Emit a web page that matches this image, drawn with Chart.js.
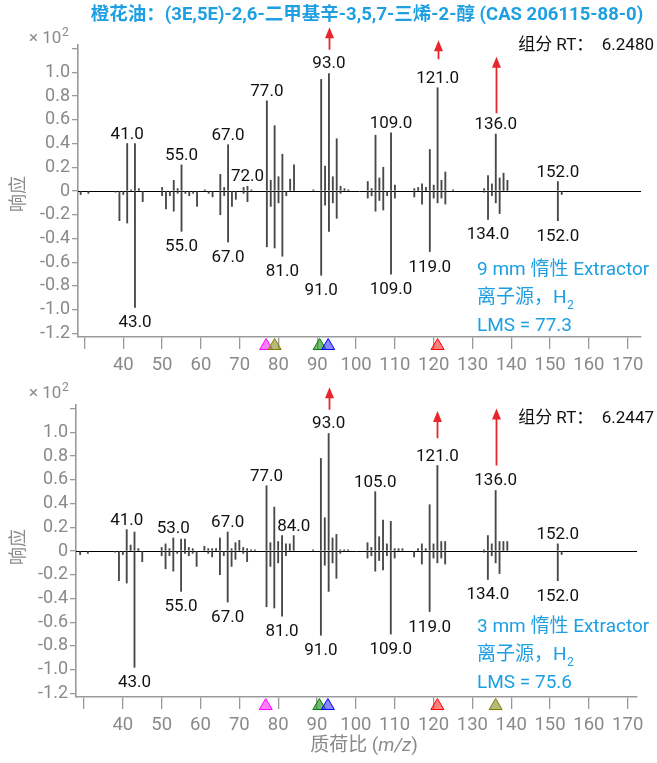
<!DOCTYPE html>
<html><head><meta charset="utf-8">
<script src="https://cdn.jsdelivr.net/npm/chart.js@4.4.1/dist/chart.umd.min.js"></script>
<style>
html,body{margin:0;padding:0;background:#fff;}
body{width:657px;height:763px;overflow:hidden;position:relative;}
canvas{position:absolute;left:0;}
#c1{top:0;}
#c2{top:360px;}
</style></head><body>
<canvas id="c1" width="657" height="385"></canvas>
<canvas id="c2" width="657" height="403"></canvas>
<script>
// ---- data ----
const titleText = '橙花油：(3E,5E)-2,6-二甲基辛-3,5,7-三烯-2-醇 (CAS 206115-88-0)';
const xTicks = [30,40,50,60,70,80,90,100,110,120,130,140,150,160,170];
const yTicks = [-1.2,-1.0,-0.8,-0.6,-0.4,-0.2,0,0.2,0.4,0.6,0.8,1.0,1.2];

// library (reference) spectrum, drawn downward
const libraryMz  = [29,31,38,39,40,41,43,45,50,51,52,53,54,55,56,57,58,59,62,63,65,66,67,68,69,71,72,77,78,79,80,81,82,91,92,93,94,95,96,103,104,105,106,107,108,109,110,115,117,119,120,121,122,123,133,134,135,136,137,152,153];
const libraryInt = [-0.03,-0.02,-0.01,-0.25,-0.03,-0.27,-0.98,-0.09,-0.04,-0.15,-0.04,-0.17,-0.02,-0.34,-0.02,-0.04,-0.02,-0.13,-0.02,-0.05,-0.20,-0.04,-0.43,-0.13,-0.07,-0.02,-0.09,-0.47,-0.13,-0.48,-0.10,-0.55,-0.04,-0.71,-0.12,-0.34,-0.10,-0.23,-0.02,-0.06,-0.04,-0.17,-0.08,-0.16,-0.04,-0.70,-0.06,-0.05,-0.11,-0.51,-0.06,-0.10,-0.06,-0.11,-0.01,-0.24,-0.04,-0.10,-0.19,-0.25,-0.03];
const libraryLabels = [43,55,67,81,91,109,119,134,152];

// 9 mm extractor sample spectrum
const sample9Mz  = [41,42,43,44,50,53,54,55,61,65,66,67,71,72,73,77,78,79,80,81,83,84,89,91,92,93,94,95,96,97,98,103,104,105,106,107,109,110,115,116,117,118,119,120,121,122,123,125,133,134,135,136,137,138,139,152];
const sample9Int = [0.40,0.01,0.40,0.02,0.03,0.09,0.02,0.22,0.01,0.14,0.03,0.39,0.03,0.04,0.01,0.76,0.09,0.55,0.12,0.31,0.10,0.22,0.01,0.94,0.21,0.99,0.12,0.44,0.04,0.02,0.01,0.08,0.02,0.47,0.11,0.20,0.49,0.05,0.02,0.03,0.06,0.03,0.35,0.05,0.87,0.09,0.16,0.01,0.02,0.13,0.06,0.48,0.11,0.15,0.09,0.08];
const sample9Labels = [41,55,67,72,77,93,109,121,136,152];

// 3 mm extractor sample spectrum
const sample3Mz  = [41,42,43,44,50,51,52,53,55,56,57,58,61,62,63,64,65,67,68,69,70,71,72,73,74,77,78,79,80,81,82,83,84,89,91,92,93,94,95,96,97,98,103,104,105,106,107,108,109,110,111,112,116,117,118,119,120,121,122,123,133,134,135,136,137,138,139,152];
const sample3Int = [0.18,0.05,0.16,0.02,0.03,0.06,0.02,0.11,0.10,0.10,0.03,0.02,0.04,0.02,0.02,0.02,0.11,0.16,0.02,0.07,0.09,0.03,0.02,0.01,0.01,0.55,0.07,0.37,0.08,0.13,0.06,0.06,0.13,0.01,0.78,0.28,0.99,0.11,0.14,0.01,0.01,0.01,0.07,0.03,0.50,0.12,0.26,0.06,0.25,0.02,0.02,0.02,0.02,0.06,0.02,0.39,0.06,0.72,0.08,0.08,0.01,0.13,0.06,0.51,0.08,0.08,0.08,0.06];
const sample3Labels = [41,53,67,77,84,93,105,121,136,152];

// red arrows (m/z, from, to in ×10² units)
const arrowMz = [93,121,136];
const arrow9From = [1.19,1.11,0.655];
const arrow9To   = [1.38,1.27,1.13];
const arrow3From = [1.19,0.95,0.72];
const arrow3To   = [1.38,1.18,1.20];

// ion markers below axis
const marker9Mz = [76.8,79,90.6,92.8,121];
const marker9Names = ['magenta','olive','green','blue','red'];
const marker3Mz = [76.8,90.6,92.8,121,136];
const marker3Names = ['magenta','green','blue','red','olive'];

const rt9 = '6.2480', rt3 = '6.2447';
const lms9 = '77.3', lms3 = '75.6';
const extractor9 = '9 mm 惰性 Extractor', extractor3 = '3 mm 惰性 Extractor';

// ---- styles ----
const BLUE = '#1d9fe2';
const GRAY = '#8a8a8a';
const AXIS = '#9a9a9a';
const RED = '#e8262b';
const BAR = '#484848';
const FONT = 'Roboto, "Noto Sans CJK SC", sans-serif';
const markerStyle = {
  magenta:['rgba(255,40,255,0.6)','#ff00ff'],
  olive:['rgba(140,140,30,0.6)','#808000'],
  green:['rgba(20,140,20,0.6)','#008000'],
  blue:['rgba(40,40,255,0.55)','#0000ff'],
  red:['rgba(255,40,40,0.6)','#ff0000']
};

function pts(mz, v){ return mz.map((m,i)=>({x:m,y:v[i]})); }

function decor(p){
  return {
    id:'decor',
    beforeDatasetsDraw(chart){
      const ctx=chart.ctx, a=chart.chartArea, ys=chart.scales.y;
      const y0=Math.round(ys.getPixelForValue(0))+0.5;
      ctx.save(); ctx.strokeStyle='#000'; ctx.lineWidth=1;
      ctx.beginPath(); ctx.moveTo(a.left,y0); ctx.lineTo(a.right,y0); ctx.stroke(); ctx.restore();
    },
    afterDraw(chart){
      const ctx=chart.ctx, a=chart.chartArea, xs=chart.scales.x, ys=chart.scales.y;
      ctx.save();
      // peak labels
      ctx.font='17px '+FONT; ctx.fillStyle='#111'; ctx.textAlign='center'; ctx.textBaseline='alphabetic';
      p.posLabels.forEach(m=>{
        const v=p.sampleInt[p.sampleMz.indexOf(m)];
        ctx.fillText(m.toFixed(1), xs.getPixelForValue(m), ys.getPixelForValue(v)-5);
      });
      libraryLabels.forEach(m=>{
        const v=libraryInt[libraryMz.indexOf(m)];
        ctx.fillText(m.toFixed(1), xs.getPixelForValue(m), ys.getPixelForValue(v)+20);
      });
      // arrows
      ctx.strokeStyle=RED; ctx.fillStyle=RED; ctx.lineWidth=1.8;
      arrowMz.forEach((m,i)=>{
        const x=Math.round(xs.getPixelForValue(m))+0.5;
        const y1=ys.getPixelForValue(p.arrowFrom[i]), y2=ys.getPixelForValue(p.arrowTo[i]);
        ctx.beginPath(); ctx.moveTo(x,y1); ctx.lineTo(x,y2+8); ctx.stroke();
        ctx.beginPath(); ctx.moveTo(x,y2); ctx.lineTo(x-4.5,y2+11); ctx.lineTo(x+4.5,y2+11); ctx.closePath(); ctx.fill();
      });
      // ion markers
      p.markerMz.forEach((m,i)=>{
        const st=markerStyle[p.markerNames[i]];
        const x=xs.getPixelForValue(m), yt=a.bottom+1.5;
        ctx.beginPath(); ctx.moveTo(x,yt); ctx.lineTo(x+6.5,yt+11); ctx.lineTo(x-6.5,yt+11); ctx.closePath();
        ctx.fillStyle=st[0]; ctx.fill(); ctx.strokeStyle=st[1]; ctx.lineWidth=1; ctx.stroke();
      });
      // × 10^2
      ctx.fillStyle=GRAY; ctx.textAlign='left'; ctx.textBaseline='alphabetic';
      ctx.font='17px '+FONT; ctx.fillText('× 10', 29, p.expY);
      const w=ctx.measureText('× 10').width;
      ctx.font='12px '+FONT; ctx.fillText('2', 29+w+0.5, p.expY-7);
      // y title
      ctx.save(); ctx.translate(19, p.yTitleY); ctx.rotate(-Math.PI/2);
      ctx.font='18px '+FONT; ctx.textAlign='center'; ctx.textBaseline='middle'; ctx.fillStyle=GRAY;
      ctx.fillText('响应',0,0); ctx.restore();
      // RT
      ctx.font='17px '+FONT; ctx.fillStyle='#111'; ctx.textAlign='right'; ctx.textBaseline='middle';
      ctx.fillText('组分 RT：  '+p.rt, 654, p.rtY);
      // blue notes
      ctx.fillStyle=BLUE; ctx.textAlign='left'; ctx.textBaseline='middle'; ctx.font='19px '+FONT;
      ctx.fillText(p.extractor, 477, p.noteY);
      ctx.fillText('离子源，H', 477, p.noteY+28);
      const hw=ctx.measureText('离子源，H').width;
      ctx.font='12px '+FONT; ctx.fillText('2', 477+hw+0.5, p.noteY+28+8);
      ctx.font='19px '+FONT; ctx.fillText('LMS = '+p.lms, 477, p.noteY+56);
      // title
      if(p.title){
        ctx.font='bold 18.5px '+FONT; ctx.fillStyle=BLUE; ctx.textAlign='center'; ctx.textBaseline='middle';
        ctx.fillText(titleText, 367, 15);
      }
      // x title
      if(p.xTitleY){
        ctx.fillStyle=GRAY; ctx.textBaseline='middle'; ctx.textAlign='left';
        const s1='质荷比 (', s2='m/z', s3=')';
        ctx.font='19px '+FONT; const w1=ctx.measureText(s1).width, w3=ctx.measureText(s3).width;
        ctx.font='italic 19px '+FONT; const w2=ctx.measureText(s2).width;
        let x=364-(w1+w2+w3)/2;
        ctx.font='19px '+FONT; ctx.fillText(s1,x,p.xTitleY); x+=w1;
        ctx.font='italic 19px '+FONT; ctx.fillText(s2,x,p.xTitleY); x+=w2;
        ctx.font='19px '+FONT; ctx.fillText(s3,x,p.xTitleY);
      }
      ctx.restore();
    }
  };
}

function makeChart(id, p){
  return new Chart(document.getElementById(id), {
    type:'bar',
    data:{datasets:[
      {data:pts(p.sampleMz,p.sampleInt), backgroundColor:BAR, barThickness:1.2, grouped:false},
      {data:pts(libraryMz,libraryInt), backgroundColor:BAR, barThickness:1.2, grouped:false}
    ]},
    options:{
      responsive:false, animation:false, events:[],
      layout:{padding:{left:0,right:p.padRight,top:45,bottom:0}},
      plugins:{legend:{display:false},tooltip:{enabled:false},title:{display:false}},
      scales:{
        x:{type:'linear', min:p.xMin, max:p.xMax, offset:false,
           afterBuildTicks:s=>{s.ticks=xTicks.map(v=>({value:v}));},
           afterFit:s=>{s.height=p.xHeight;},
           ticks:{autoSkip:false, maxRotation:0, padding:5, color:GRAY, font:{family:FONT,size:18.5},
                  callback:v=>v===30?'':String(v)},
           grid:{offset:false, drawOnChartArea:false, drawTicks:true, tickLength:12, color:AXIS, lineWidth:1.3},
           border:{display:true, color:AXIS, width:1.6}},
        y:{type:'linear', min:-1.23, max:1.23,
           afterBuildTicks:s=>{s.ticks=yTicks.map(v=>({value:v}));},
           afterFit:s=>{s.width=p.yWidth;},
           ticks:{autoSkip:false, padding:2, color:GRAY, font:{family:FONT,size:18},
                  callback:v=>{ if(Math.abs(v-1.2)<1e-6) return ''; if(Math.abs(v)<1e-9) return '0'; return v.toFixed(1);} },
           grid:{drawOnChartArea:false, drawTicks:true, tickLength:6, color:AXIS, lineWidth:1.3},
           border:{display:true, color:AXIS, width:1.6}}
      }
    },
    plugins:[decor(p)]
  });
}

makeChart('c1', {sampleMz:sample9Mz, sampleInt:sample9Int, posLabels:sample9Labels,
  arrowFrom:arrow9From, arrowTo:arrow9To, markerMz:marker9Mz, markerNames:marker9Names,
  rt:rt9, lms:lms9, extractor:extractor9, title:true, xTitleY:0,
  xMin:28.32, xMax:173.43, padRight:16, yWidth:78, xHeight:48,
  expY:43, yTitleY:194, rtY:46, noteY:270});
makeChart('c2', {sampleMz:sample3Mz, sampleInt:sample3Int, posLabels:sample3Labels,
  arrowFrom:arrow3From, arrowTo:arrow3To, markerMz:marker3Mz, markerNames:marker3Names,
  rt:rt3, lms:lms3, extractor:extractor3, title:false, xTitleY:386,
  xMin:27.94, xMax:172.4, padRight:20, yWidth:76, xHeight:66,
  expY:38, yTitleY:187, rtY:59, noteY:267});
</script>
</body></html>
